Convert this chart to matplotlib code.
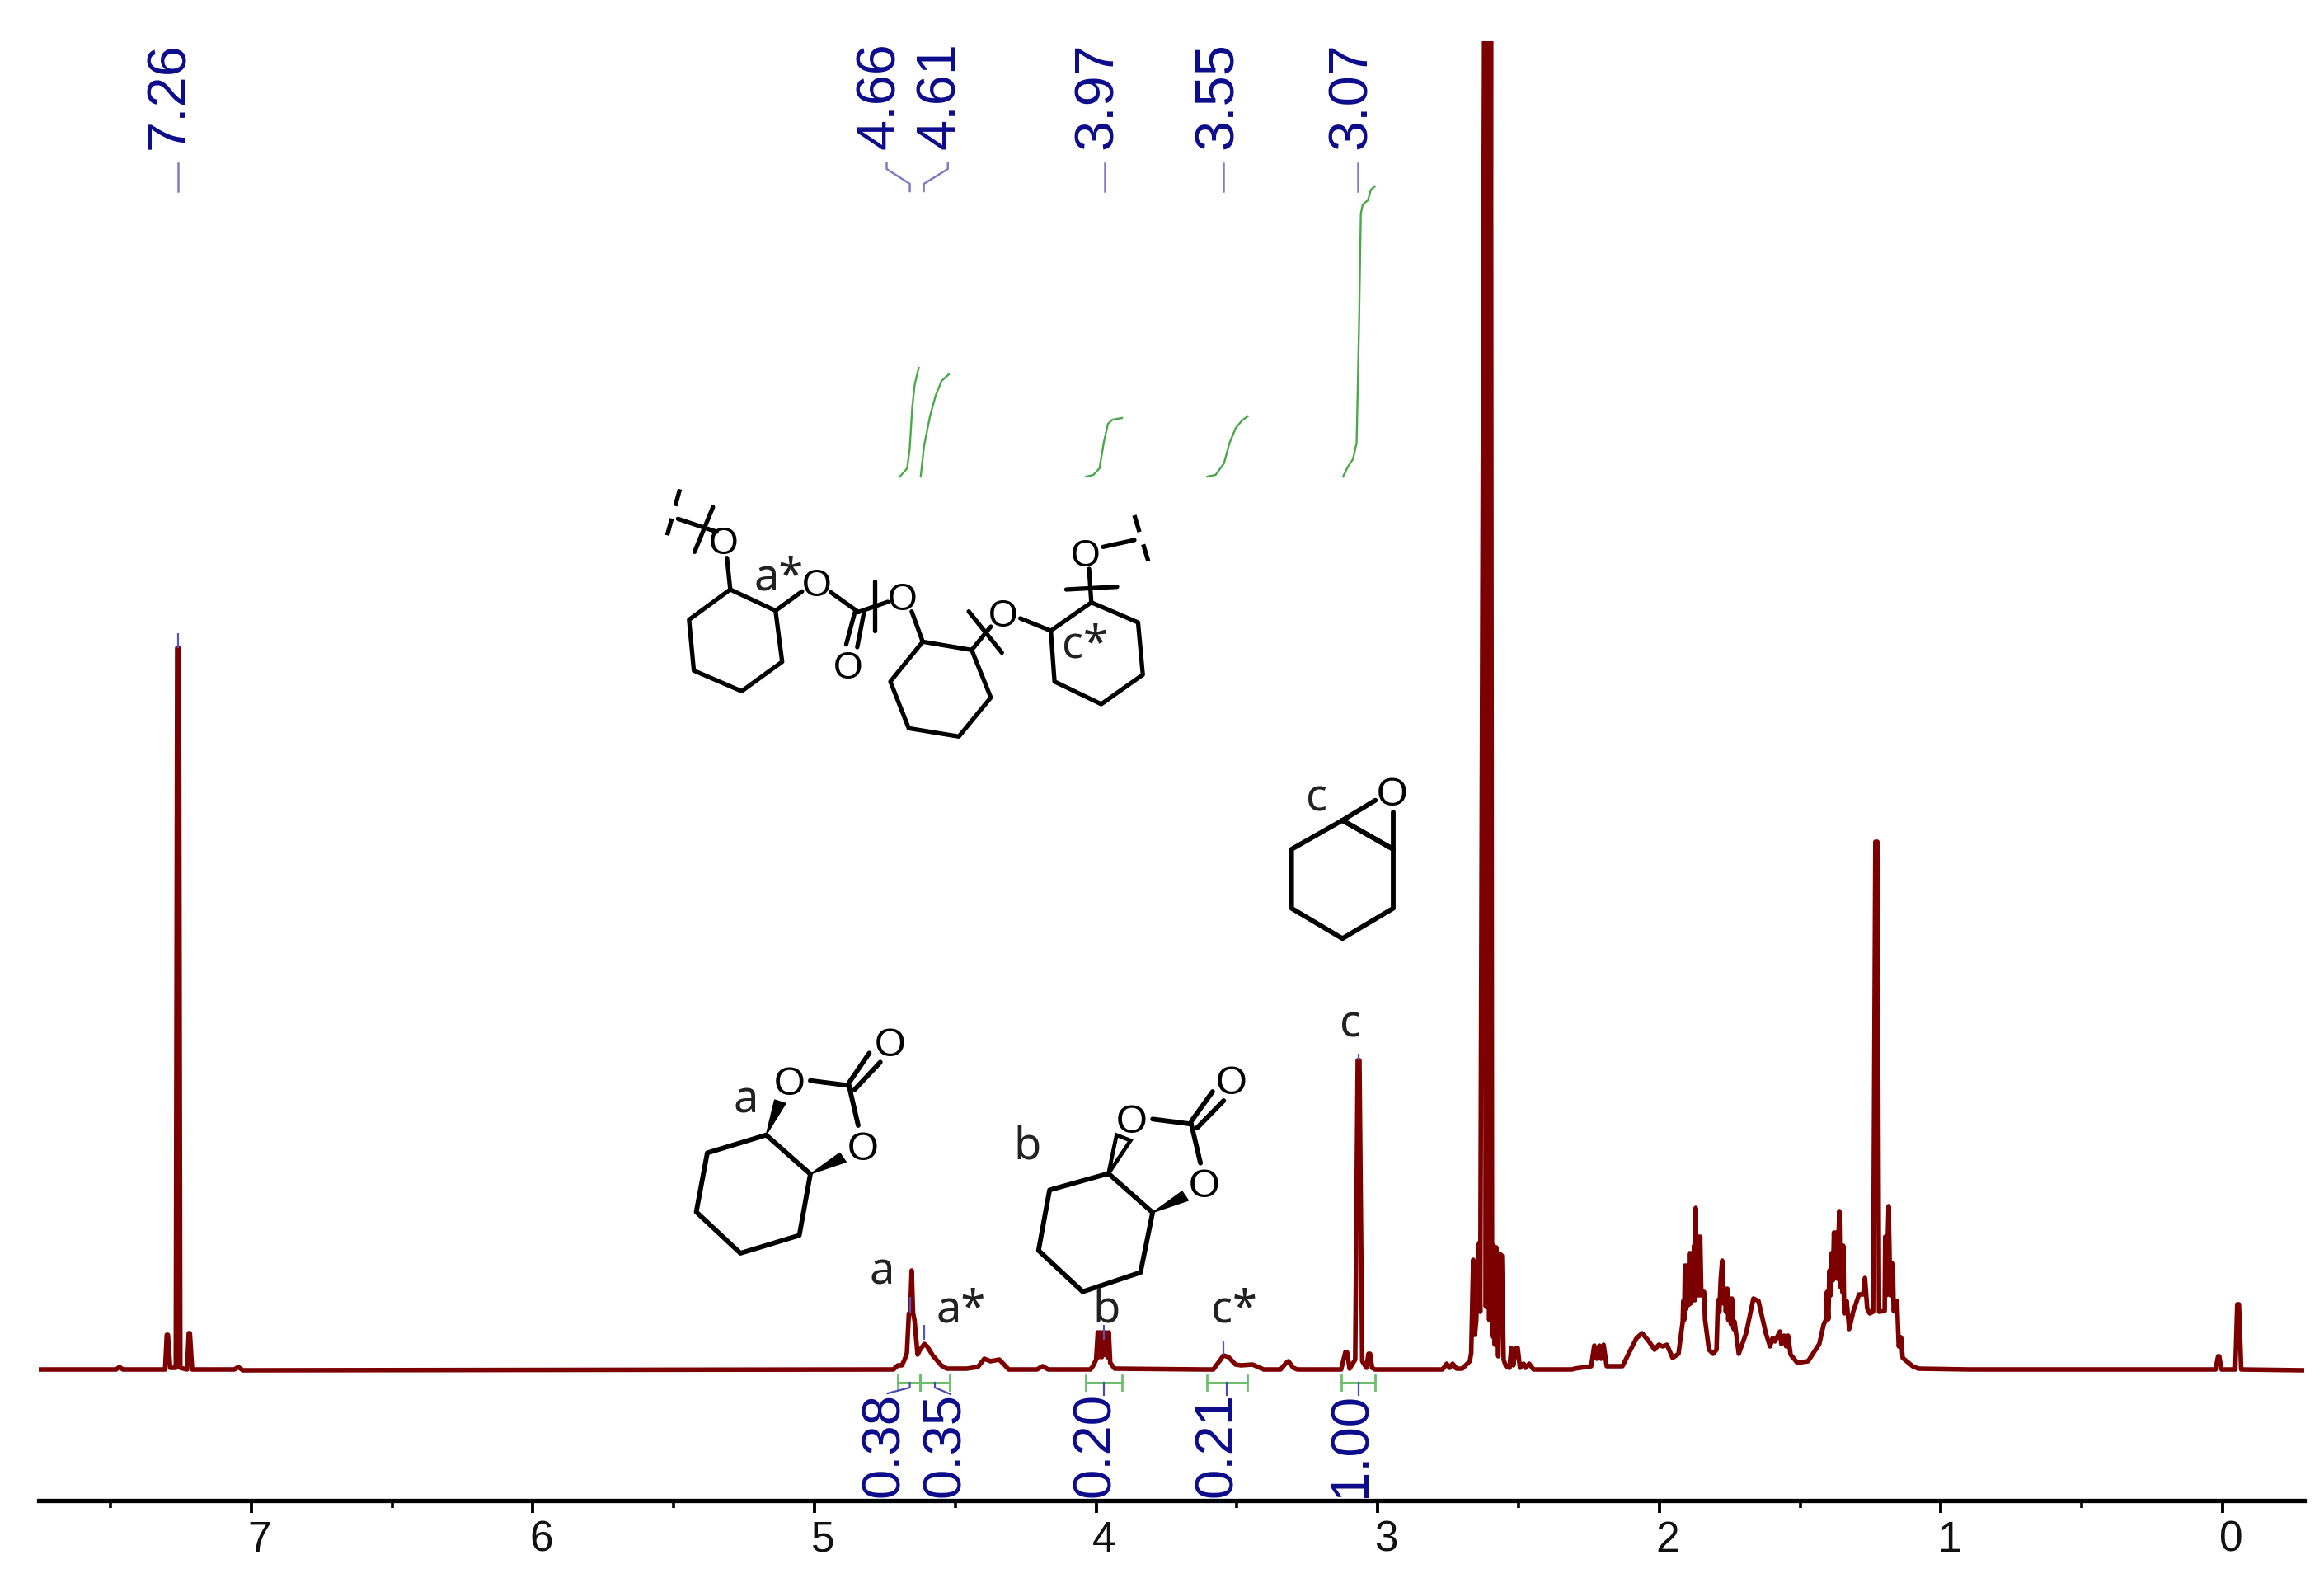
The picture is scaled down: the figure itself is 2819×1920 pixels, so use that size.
import numpy as np
import matplotlib
matplotlib.use("Agg")
import matplotlib.pyplot as plt
from matplotlib.patches import Polygon
from matplotlib.transforms import ScaledTranslation

W, H = 2819, 1920
DARK = "#7d0000"; NAVY = "#0c0c8c"; LEAD = "#7d7dc4"; GREEN = "#4aa84a"; BRK = "#6cbd6c"

# ---- spectrum, region by region (ppm, intensity) ----
base_ppm = [7.755, 7.48, 7.468, 7.456, 7.306, 7.300, 7.296, 7.288, 7.268, 7.263, 7.257, 7.252,
            7.228, 7.222, 7.218, 7.21, 7.06, 7.046, 7.03, 4.80]
base_int = [0, 0, 3, 0, 0, 42, 42, 2, 2, 875, 875, 2, 0, 44, 44, 0, 0, 3, -1, 0]

ac_ppm = [4.72, 4.704, 4.69, 4.68, 4.672, 4.665, 4.66, 4.655, 4.65, 4.645, 4.634, 4.625, 4.61, 4.60,
          4.58, 4.55, 4.53, 4.46, 4.42, 4.397, 4.375, 4.344, 4.31, 4.21, 4.19, 4.17, 4.04]
ac_int = [0, 5, 5, 12, 20, 68, 70, 120, 68, 60, 18, 24, 31, 28, 17, 5, 1, 1, 3, 13, 10, 12, 0, 0, 4, 0, 0]

b_ppm = [4.02, 4.01, 4.0, 3.994, 3.99, 3.985, 3.98, 3.975, 3.97, 3.965, 3.96, 3.955, 3.95, 3.934, 3.62]
b_int = [0, 5, 12, 45, 15, 45, 15, 45, 18, 45, 15, 45, 8, 1, 0]

cs_ppm = [3.584, 3.56, 3.548, 3.53, 3.505, 3.486, 3.445, 3.405, 3.345, 3.325, 3.317, 3.30, 3.285, 3.13,
          3.115, 3.109, 3.10, 3.08, 3.071, 3.065, 3.055, 3.04, 3.033, 3.027, 3.02, 3.01, 2.80]
cs_int = [0, 11, 17, 15, 6, 5, 6, 0, 0, 8, 10, 2, 0, 0, 21, 21, 1, 12, 375, 375, 10, 2, 19, 19, 2, 0, 0]

dmso_ppm = [2.77, 2.755, 2.745, 2.734, 2.72, 2.70, 2.673, 2.668, 2.661, 2.655, 2.650, 2.643, 2.636,
            2.622, 2.616, 2.610, 2.604, 2.598, 2.594, 2.588, 2.584, 2.579, 2.572, 2.566, 2.559, 2.553,
            2.545, 2.532, 2.526, 2.518, 2.511, 2.503, 2.495, 2.482, 2.475, 2.462, 2.447, 2.31]
dmso_int = [0, 7, 2, 7, 1, 1, 10, 20, 133, 42, 60, 153, 70, 1640, 76, 1640, 60, 1640, 40, 150, 30, 148,
            16, 140, 138, 12, 4, 2, 26, 5, 26, 26, 2, 7, 2, 7, 0, 0]

m1_ppm = [2.301, 2.242, 2.231, 2.222, 2.213, 2.207, 2.198, 2.187, 2.131, 2.096, 2.081, 2.061, 2.037, 2.017,
          2.002, 1.988, 1.973, 1.953, 1.932, 1.917, 1.915, 1.912, 1.909, 1.905, 1.901, 1.897, 1.893, 1.889, 1.885,
          1.881, 1.877, 1.874, 1.871, 1.867, 1.863, 1.859, 1.855, 1.851, 1.846,
          1.841, 1.838, 1.824, 1.809, 1.797, 1.792, 1.787, 1.782, 1.777, 1.772, 1.768, 1.764, 1.759, 1.755, 1.75,
          1.746, 1.742, 1.736, 1.733, 1.718, 1.692, 1.666, 1.648, 1.622, 1.607, 1.598, 1.59, 1.572, 1.567, 1.557,
          1.55, 1.543, 1.534, 1.51]
m1_int = [1, 4, 29, 13, 29, 13, 30, 4, 4, 28, 38, 44, 34, 24, 30, 28, 30, 14, 19, 58, 83, 60, 126, 74, 126, 78,
          141, 80, 141, 84, 150, 84, 196, 90, 161, 90, 161, 90, 92,
          94, 61, 24, 19, 24, 84, 70, 110, 132, 80, 98, 70, 98, 60, 86,
          55, 86, 49, 58, 19, 44, 86, 83, 44, 28, 38, 34, 46, 31, 41, 28, 41, 18, 8]

m2_ppm = [1.472, 1.432, 1.417, 1.408, 1.405, 1.40, 1.396, 1.392, 1.388, 1.384, 1.38, 1.376, 1.372, 1.368, 1.361,
          1.357, 1.353, 1.349, 1.347, 1.344, 1.335,
          1.326, 1.311, 1.291, 1.276, 1.27, 1.262, 1.253, 1.241, 1.233, 1.226, 1.22, 1.2, 1.198, 1.194, 1.186,
          1.18, 1.171, 1.168, 1.156, 1.15, 1.142, 1.136, 1.101, 1.08, 0.90, 0.03]
m2_int = [10, 31, 54, 61, 94, 61, 120, 90, 141, 108, 166, 120, 166, 110, 192, 100, 150, 93, 150, 68, 83,
          49, 71, 91, 91, 111, 74, 68, 70,
          640, 640, 70, 71, 161, 90, 198, 90, 129, 71, 83, 28, 39, 14, 4, 1, 0, 0]

tms_ppm = [0.025, 0.016, 0.012, 0.004, -0.045, -0.052, -0.058, -0.066, -0.29]
tms_int = [0, 16, 16, 0, 0, 79, 79, 0, -1]

# ---- integrals ----
int_curves = {
    "4.66": ([4.697, 4.671, 4.662, 4.653, 4.644, 4.630], [1083, 1093, 1117, 1167, 1195, 1215]),
    "4.61": ([4.623, 4.611, 4.590, 4.570, 4.549, 4.523], [1083, 1120, 1156, 1181, 1199, 1207]),
    "3.97": ([4.035, 4.010, 3.988, 3.973, 3.958, 3.942, 3.908], [1083, 1085, 1093, 1124, 1147, 1152, 1154]),
    "3.55": ([3.605, 3.576, 3.546, 3.526, 3.504, 3.482, 3.462], [1083, 1085, 1099, 1124, 1142, 1151, 1156]),
    "3.07": ([3.123, 3.106, 3.088, 3.075, 3.066, 3.06, 3.053, 3.035, 3.024, 3.01],
             [1083, 1095, 1104, 1124, 1274, 1402, 1413, 1418, 1431, 1435]),
}
int_ranges = [(4.704, 4.625), (4.625, 4.521), (4.037, 3.908), (3.607, 3.463), (3.128, 3.009)]
integral_labels = ["0.38", "0.35", "0.20", "0.21", "1.00"]
integral_label_x = [1073, 1147, 1329, 1477, 1640]
shift_labels = ["7.26", "4.66", "4.61", "3.97", "3.55", "3.07"]
shift_label_x = [206, 1068, 1141, 1332, 1478, 1640]
ticks_major = [7, 6, 5, 4, 3, 2, 1, 0]
ticks_minor = [7.5, 6.5, 5.5, 4.5, 3.5, 2.5, 1.5, 0.5]

spec_ppm = np.array(base_ppm + ac_ppm + b_ppm + cs_ppm + dmso_ppm + m1_ppm + m2_ppm + tms_ppm)
spec_int = np.array(base_int + ac_int + b_int + cs_int + dmso_int + m1_int + m2_int + tms_int)

plt.rcParams["font.family"] = ["Liberation Sans", "DejaVu Sans"]
fig = plt.figure(figsize=(W / 100, H / 100), dpi=100, facecolor="white")

# main axis: x = ppm, y = intensity
AX_L, AX_R, AX_B, AX_T = 47, 2795, 1819.5, 50
ax = fig.add_axes([AX_L / W, 1 - AX_B / H, (AX_R - AX_L) / W, (AX_B - AX_T) / H])
ppm_at = lambda px: (2696 - px) / 341.6
ax.set_xlim(ppm_at(AX_L), ppm_at(AX_R))
ax.set_ylim(1661 - AX_B, 1661 - AX_T)
ax.patch.set_alpha(0)
for s in ("top", "left", "right"):
    ax.spines[s].set_visible(False)
ax.spines["bottom"].set_linewidth(3.8)
ax.yaxis.set_visible(False)
ax.set_xticks(ticks_major)
ax.set_xticklabels([str(t) for t in ticks_major])
ax.set_xticks(ticks_minor, minor=True)
ax.tick_params(axis="x", which="major", length=10.5, width=2.8, labelsize=37, pad=7, labelcolor="#111111")
ax.tick_params(axis="x", which="minor", length=6.5, width=2.6)
off = ScaledTranslation(10 / 100, 0, fig.dpi_scale_trans)
for lab in ax.get_xticklabels():
    lab.set_transform(lab.get_transform() + off)

ax.plot(spec_ppm, spec_int, color=DARK, lw=4.0, solid_joinstyle="round", zorder=3)

for px_, ih_ in int_curves.values():
    ax.plot(px_, ih_, color=GREEN, lw=1.7, zorder=2)

BR_Y, BR_H = -16, 9
for a, b in int_ranges:
    ax.plot([a, b], [BR_Y, BR_Y], color=BRK, lw=2.2)
    for e in (a, b):
        ax.plot([e, e], [BR_Y - BR_H, BR_Y + BR_H], color=BRK, lw=2.0)

# peak markers (ppm, intensity top, intensity bottom)
mark_ppm = [7.26, 4.66, 4.61, 3.973, 3.548, 3.068]
mark_hi = [893, 88, 54, 54, 34, 383]
mark_lo = [875, 68, 36, 36, 18, 375]
ax.vlines(mark_ppm, mark_lo, mark_hi, color="#5555bb", lw=1.6, zorder=4)

# overlay in figure pixels: assignments, labels, structures
ov = fig.add_axes([0, 0, 1, 1])
ov.set_xlim(0, W); ov.set_ylim(H, 0); ov.axis("off"); ov.patch.set_alpha(0)

for s, x in zip(shift_labels, shift_label_x):
    ov.text(x, 181, s, rotation=90, ha="center", va="bottom", fontsize=48, color=NAVY)
for s, x in zip(integral_labels, integral_label_x):
    ov.text(x, 1816, s, rotation=90, ha="center", va="bottom", fontsize=47, color=NAVY)

for x in (216, 1340, 1484, 1646.5):
    ov.plot([x, x], [198, 232], color=LEAD, lw=1.8)
ov.plot([1075.5, 1075.5, 1103.6, 1103.6], [198, 205, 223, 232], color=LEAD, lw=1.8)
ov.plot([1149.7, 1149.7, 1120.6, 1120.6], [198, 205, 223, 232], color=LEAD, lw=1.8)
ov.plot([1103.5, 1103.5, 1076.5], [1677, 1683, 1690], color="#4a4ab8", lw=1.6)
ov.plot([1134, 1134, 1153], [1677, 1683, 1691], color="#4a4ab8", lw=1.6)
for x in (1339, 1488, 1648):
    ov.plot([x, x], [1677, 1692], color="#4a4ab8", lw=1.6)

names = [("a", 1070, 1558), ("a*", 1166, 1603), ("b", 1342, 1603), ("c*", 1497, 1603), ("c", 1638, 1257),
         ("c", 1597, 983), ("a", 905, 1350), ("b", 1246, 1405), ("a*", 945, 715), ("c*", 1316, 798)]
for s, x, y in names:
    ov.text(x, y, s, ha="center", va="baseline", fontsize=39, color="#222222", family=["Noto Sans", "DejaVu Sans"])


def bonds(segs, conv, lw=4.2, **kw):
    for seg in segs:
        p = np.array([conv(*q) for q in seg])
        ov.plot(p[:, 0], p[:, 1], color="black", lw=lw, solid_capstyle="round", solid_joinstyle="round", **kw)


def atoms(pts, conv, fs=35):
    for u, v in pts:
        x, y = conv(u, v)
        ov.text(x, y, "O", ha="center", va="center_baseline", fontsize=fs, color="black")


def closed(p):
    return p + [p[0]]


# epoxide
z10 = lambda u, v: (1500 + u / 3, 900 + v / 3)
bonds([closed([(385, 285), (200, 390), (200, 605), (385, 715), (570, 605), (570, 390)]),
       [(385, 285), (505, 212)], [(385, 285), (570, 390)], [(570, 390), (570, 255)]], z10)
atoms([(565, 178)], z10)

# cyclic carbonates
z5 = lambda u, v: (820 + u / 2.24, 1220 + v / 3)
bonds([closed([(245, 470), (85, 535), (55, 750), (175, 900), (335, 835), (365, 612)]),
       [(365, 272), (470, 290)], [(470, 290), (495, 435)], [(470, 280), (525, 172)], [(485, 305), (555, 205)]], z5)
atoms([(308, 270), (507, 508), (582, 130)], z5)
for tri in ([(245, 470), (268, 342), (298, 355)], [(365, 612), (445, 535), (462, 568)]):
    ov.add_patch(Polygon([z5(*q) for q in tri], closed=True, fc="black", ec="black", lw=1))

bonds([closed([(1175, 610), (1015, 670), (985, 890), (1105, 1040), (1262, 970), (1295, 752)]),
       [(1295, 412), (1400, 430)], [(1400, 430), (1425, 572)], [(1400, 420), (1458, 312)], [(1415, 445), (1488, 345)]], z5)
atoms([(1237, 408), (1435, 645), (1510, 268)], z5)
ov.add_patch(Polygon([z5(*q) for q in [(1175, 610), (1197, 470), (1235, 490)]], closed=True, fc="white", ec="black", lw=3.4))
ov.add_patch(Polygon([z5(*q) for q in [(1295, 752), (1375, 675), (1392, 708)]], closed=True, fc="black", ec="black", lw=1))

# polymer repeat units
z3 = lambda u, v: (780 + u / 2.24, 580 + v / 3)
bonds([closed([(237, 405), (125, 515), (138, 700), (268, 775), (378, 668), (360, 482)]),
       [(237, 405), (228, 290)], [(360, 482), (432, 412)], [(510, 415), (585, 487)],
       [(575, 490), (552, 605)], [(600, 490), (582, 615)], [(585, 487), (665, 450)], [(630, 375), (630, 555)],
       [(730, 485), (760, 595)],
       closed([(760, 595), (672, 740), (722, 910), (858, 940), (945, 798), (893, 625)]),
       [(893, 625), (945, 540)], [(885, 485), (975, 635)], [(1025, 510), (1108, 555)],
       closed([(1108, 555), (1118, 740), (1245, 822), (1358, 715), (1345, 525), (1218, 452)]),
       [(1218, 452), (1212, 330)], [(1150, 405), (1288, 395)], [(1250, 250), (1335, 225)],
       [(200, 195), (95, 148)], [(190, 105), (140, 268)]], z3, lw=3.8)
for seg in ([(100, 40), (60, 235)], [(1335, 135), (1378, 325)]):
    p = np.array([z3(*q) for q in seg])
    ov.plot(p[:, 0], p[:, 1], color="black", lw=3.8, dashes=(4, 3))
atoms([(220, 225), (472, 378), (557, 678), (705, 430), (978, 488), (1203, 270)], z3, fs=33)

fig.savefig("out.png", dpi=100, facecolor="white")
